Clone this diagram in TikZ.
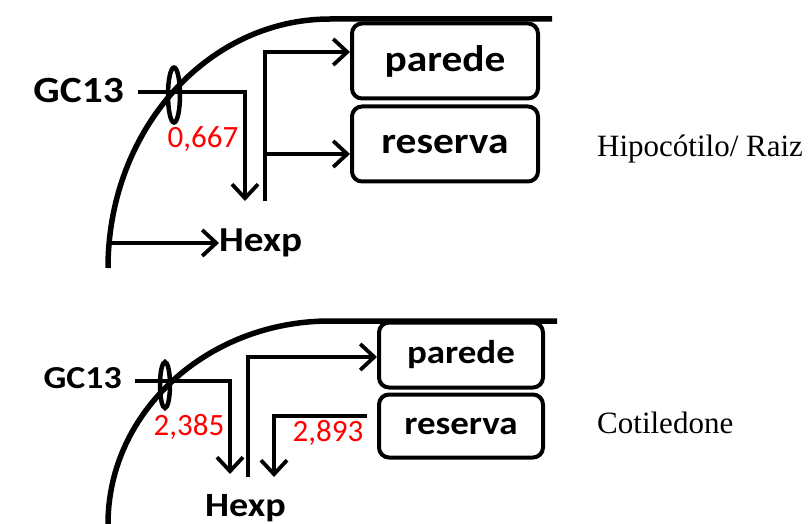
\documentclass[tikz,border=0pt]{standalone}
\usepackage{fontspec}
\setmainfont{Liberation Serif}
\newfontfamily\calb[FakeStretch=1.12]{Carlito}
\newfontfamily\calr{Carlito}
\usetikzlibrary{arrows.meta,shapes.geometric}
\tikzset{
  membrane/.style={line width=5.5pt},
  conn/.style={line width=3.8pt},
  arr/.style={conn,-{Straight Barb[length=14pt,width=26pt,line width=3.8pt]}},
  boxnode/.style={draw,line width=4pt,rounded corners=10pt,inner sep=0pt},
  pore/.style={draw,ellipse,line width=4.5pt,inner sep=0pt},
  lbl/.style={inner sep=0pt,text=black},
  val/.style={inner sep=0pt,text={rgb,255:red,255;green,0;blue,0},font=\calr\fontsize{31}{31}\selectfont},
  side/.style={inner sep=0pt,anchor=base west,font=\fontsize{31}{31}\selectfont}
}
\begin{document}
\begin{tikzpicture}[x=1pt,y=-1pt]
\useasboundingbox (0,0) rectangle (812,524);
% ---------- top panel ----------
\draw[membrane] (108,268) arc[start angle=180,end angle=270,x radius=222,y radius=249] -- (552,19);
\node[boxnode,minimum width=186pt,minimum height=75pt] (p1) at (445,61) {};
\node[lbl,font=\calb\bfseries\fontsize{37}{37}\selectfont] at (p1) {parede};
\node[boxnode,minimum width=186pt,minimum height=75pt] (r1) at (445,144) {};
\node[lbl,font=\calb\bfseries\fontsize{37}{37}\selectfont] at (r1) {reserva};
\node[lbl,font=\calb\bfseries\fontsize{37}{37}\selectfont,anchor=east] (g1) at (124,90) {GC13};
\node[pore,minimum width=12pt,minimum height=55pt] (o1) at (174,95) {};
\node[val] (v1) at (203,139) {0,667};
\node[lbl,font=\calb\bfseries\fontsize{35}{35}\selectfont,anchor=west] (h1) at (219,243) {Hexp};
\coordinate (g1s) at (138,92);
\coordinate (h1a) at (245,201);
\coordinate (b1) at (265,201);
\coordinate (m1) at (108,243);
\draw[arr] (g1s) -| (h1a);
\draw[arr] (b1) |- (p1.west |- 0,52);
\draw[arr] (265,154) -- (r1.west |- 0,154);
\draw[arr] (m1) -- (h1.west);
\node[side] (t1) at (597,157) {Hipocótilo/ Raiz};
% ---------- bottom panel ----------
\draw[membrane] (108,524) arc[start angle=180,end angle=270,x radius=222,y radius=203] -- (557,321);
\node[boxnode,minimum width=164pt,minimum height=65pt] (p2) at (461,355) {};
\node[lbl,font=\calb\bfseries\fontsize{33}{33}\selectfont] at (p2) {parede};
\node[boxnode,minimum width=164pt,minimum height=63pt] (r2) at (461,426) {};
\node[lbl,font=\calb\bfseries\fontsize{33}{33}\selectfont] at (r2) {reserva};
\node[lbl,font=\calb\bfseries\fontsize{32}{32}\selectfont,anchor=east] (g2) at (122,378) {GC13};
\node[pore,minimum width=10pt,minimum height=46pt] (o2) at (165,385) {};
\node[val] (v2) at (189,427) {2,385};
\node[val] (v3) at (328,433) {2,893};
\node[lbl,font=\calb\bfseries\fontsize{34}{34}\selectfont,anchor=west] (h2) at (205,508) {Hexp};
\coordinate (g2s) at (135,381);
\coordinate (h2a) at (230,474);
\coordinate (b2) at (248,477);
\coordinate (c2) at (367,416);
\coordinate (h2b) at (274,477);
\draw[arr] (g2s) -| (h2a);
\draw[arr] (b2) |- (p2.west |- 0,357);
\draw[arr] (c2) -| (h2b);
\node[side] (t2) at (597,433) {Cotiledone};
\end{tikzpicture}
\end{document}
